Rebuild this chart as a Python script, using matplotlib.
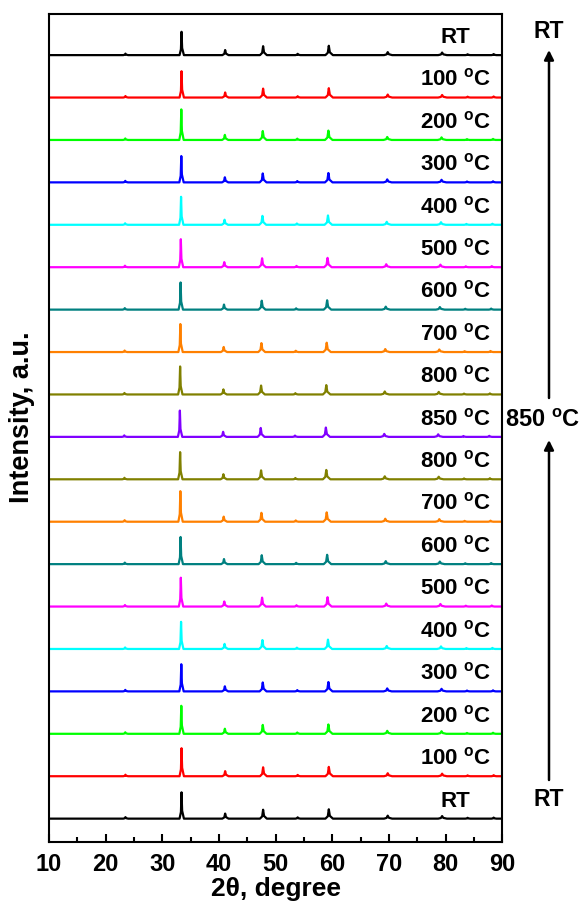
import matplotlib
matplotlib.use("Agg")
import matplotlib.pyplot as plt
import numpy as np

plt.rcParams['font.family'] = ['Liberation Sans', 'DejaVu Sans']
plt.rcParams['font.weight'] = 'bold'
plt.rcParams['mathtext.fontset'] = 'custom'
plt.rcParams['mathtext.rm'] = 'Liberation Sans:bold'
plt.rcParams['mathtext.it'] = 'Liberation Sans:bold'
plt.rcParams['mathtext.bf'] = 'Liberation Sans:bold'
plt.rcParams['mathtext.default'] = 'rm'

# ---- data (bottom trace first) ----
labels = ["RT", "100", "200", "300", "400", "500", "600", "700", "800", "850",
          "800", "700", "600", "500", "400", "300", "200", "100", "RT"]
colors = ["#000000", "#FF0000", "#00FF00", "#0000FF", "#00FFFF", "#FF00FF",
          "#008080", "#FF8000", "#808000", "#8000FF",
          "#808000", "#FF8000", "#008080", "#FF00FF", "#00FFFF", "#0000FF",
          "#00FF00", "#FF0000", "#000000"]
# main (33.4 deg) peak height per trace, in units of trace spacing
main_height = [0.62, 0.66, 0.66, 0.64, 0.64, 0.68, 0.64, 0.72, 0.64, 0.62,
               0.66, 0.66, 0.64, 0.66, 0.66, 0.62, 0.72, 0.62, 0.55]
# peak shift (deg) per trace due to heating
shift = [0.0, 0.0, -0.05, -0.05, -0.1, -0.15, -0.2, -0.25, -0.3, -0.35,
         -0.3, -0.25, -0.2, -0.15, -0.1, -0.05, -0.05, 0.0, 0.0]
# reflections at RT: position (deg), height (units of spacing), half width (deg)
peak_pos = [23.5, 33.4, 41.1, 47.8, 53.9, 59.4, 69.8, 79.4, 83.9, 88.5]
peak_h = [0.035, None, 0.12, 0.21, 0.03, 0.22, 0.07, 0.06, 0.02, 0.025]
peak_w = [0.4, 0.35, 0.5, 0.55, 0.4, 0.6, 0.65, 0.7, 0.4, 0.4]

xmin, xmax = 10, 90

fig = plt.figure(figsize=(5.88, 9.13), dpi=100)
ax = fig.add_axes([0.0833, 0.0778, 0.7707, 0.9069])

for i, (lab, col) in enumerate(zip(labels, colors)):
    xs = [xmin]
    ys = [i]
    for p, h, w in zip(peak_pos, peak_h, peak_w):
        hh = main_height[i] if h is None else h
        pp = p + shift[i] * (p / 40.0)
        xs += [pp - w, pp - 0.3 * w, pp, pp + 0.3 * w, pp + 1.2 * w]
        ys += [i, i + 0.25 * hh, i + hh, i + 0.3 * hh, i]
    xs.append(xmax)
    ys.append(i)
    ax.plot(xs, ys, color=col, lw=1.6, solid_joinstyle='round')
    txt = "RT" if lab == "RT" else lab + r" $^{o}$C"
    ax.text(81.7, i + 0.28, txt, ha='center', va='baseline', fontsize=16,
            fontweight='bold')

ax.set_xlim(xmin, xmax)
ax.set_ylim(-0.55, 18.97)
ax.set_xticks(range(10, 91, 10))
ax.set_xticks(range(15, 90, 10), minor=True)
ax.set_yticks([])
ax.tick_params(axis='x', which='major', direction='in', length=6, width=1.5,
               labelsize=17, pad=8)
ax.tick_params(axis='x', which='minor', direction='in', length=3.5, width=1.5)
for lbl in ax.get_xticklabels():
    lbl.set_fontweight('bold')
for s in ax.spines.values():
    s.set_linewidth(1.5)
ax.set_xlabel("2θ, degree", fontsize=19, fontweight='bold', labelpad=1)
ax.set_ylabel("Intensity, a.u.", fontsize=19.5, fontweight='bold')
ax.yaxis.set_label_coords(-0.03, 0.513)

# right-side annotations (figure fraction)
ax_x = 549 / 588
def fy(px):
    return 1 - px / 913
ax.annotate("", xy=(ax_x, fy(440)), xytext=(ax_x, fy(780)),
            xycoords='figure fraction', textcoords='figure fraction',
            arrowprops=dict(arrowstyle='-|>', lw=1.8, color='black',
                            mutation_scale=14, shrinkA=0, shrinkB=0))
ax.annotate("", xy=(ax_x, fy(50)), xytext=(ax_x, fy(398)),
            xycoords='figure fraction', textcoords='figure fraction',
            arrowprops=dict(arrowstyle='-|>', lw=1.8, color='black',
                            mutation_scale=14, shrinkA=0, shrinkB=0))
fig.text(ax_x, fy(800), "RT", ha='center', va='center', fontsize=16.5,
         fontweight='bold')
fig.text(ax_x, fy(31), "RT", ha='center', va='center', fontsize=16.5,
         fontweight='bold')
fig.text(ax_x - 0.01, fy(420), r"850 $^{o}$C", ha='center', va='center',
         fontsize=17, fontweight='bold')

fig.savefig("out.png", dpi=100)
